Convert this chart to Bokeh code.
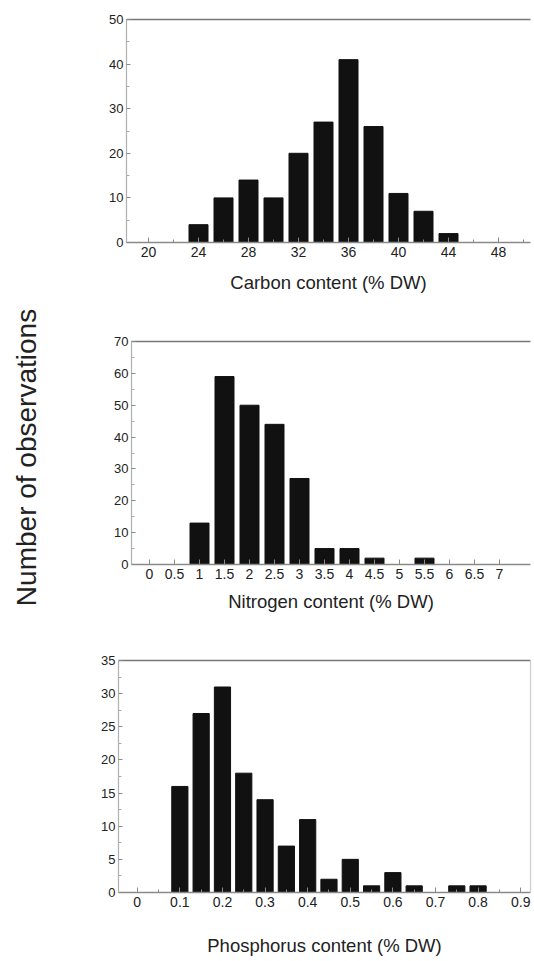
from bokeh.plotting import figure
from bokeh.models import Range1d, FixedTicker, LinearAxis, Label, Spacer
from bokeh.layouts import column, row
from bokeh.embed import file_html
from bokeh.resources import INLINE

# ---------------- data ----------------
carbon_bins = [24, 26, 28, 30, 32, 34, 36, 38, 40, 42, 44]
carbon_counts = [4, 10, 14, 10, 20, 27, 41, 26, 11, 7, 2]
carbon_bin_width = 2
carbon_xticks = [20, 24, 28, 32, 36, 40, 44, 48]
carbon_xminor = [22, 26, 30, 34, 38, 42, 46, 50]
carbon_yticks = [0, 10, 20, 30, 40, 50]
carbon_yminor = [5, 15, 25, 35, 45]

nitrogen_bins = [1, 1.5, 2, 2.5, 3, 3.5, 4, 4.5, 5, 5.5]
nitrogen_counts = [13, 59, 50, 44, 27, 5, 5, 2, 0, 2]
nitrogen_bin_width = 0.5
nitrogen_xticks = [0, 0.5, 1, 1.5, 2, 2.5, 3, 3.5, 4, 4.5, 5, 5.5, 6, 6.5, 7]
nitrogen_xlabels = ["0", "0.5", "1", "1.5", "2", "2.5", "3", "3.5", "4",
                    "4.5", "5", "5.5", "6", "6.5", "7"]
nitrogen_yticks = [0, 10, 20, 30, 40, 50, 60, 70]
nitrogen_yminor = [5, 15, 25, 35, 45, 55, 65]

phos_bins = [0.1, 0.15, 0.2, 0.25, 0.3, 0.35, 0.4, 0.45, 0.5, 0.55, 0.6,
             0.65, 0.7, 0.75, 0.8]
phos_counts = [16, 27, 31, 18, 14, 7, 11, 2, 5, 1, 3, 1, 0, 1, 1]
phos_bin_width = 0.05
phos_xticks = [0, 0.1, 0.2, 0.3, 0.4, 0.5, 0.6, 0.7, 0.8, 0.9]
phos_xlabels = ["0", "0.1", "0.2", "0.3", "0.4", "0.5", "0.6", "0.7", "0.8", "0.9"]
phos_xminor = [0.05, 0.15, 0.25, 0.35, 0.45, 0.55, 0.65, 0.75, 0.85]
phos_yticks = [0, 5, 10, 15, 20, 25, 30, 35]
phos_yminor = [2.5, 7.5, 12.5, 17.5, 22.5, 27.5, 32.5]

y_title = "Number of observations"

FONT = "Liberation Sans"
LINE = "#8a8a8a"
BAR = "#111111"
TXT = "#222222"
LABEL_W = 60
PANEL_W = 474
BORDER_L = 50


def make(bins, counts, bw, xr, yr, xticks, xminor, xlabels, yticks, yminor,
         xlabel, height, top, bottom, shift, xlabel_standoff, right_line=False):
    p = figure(width=PANEL_W - shift, height=height, output_backend="svg",
               toolbar_location=None, x_range=Range1d(*xr), y_range=Range1d(*yr),
               min_border_top=top, min_border_bottom=bottom,
               min_border_left=BORDER_L, min_border_right=4)
    p.outline_line_color = None
    p.xgrid.visible = False
    p.ygrid.visible = False
    p.background_fill_color = "white"
    p.border_fill_color = "white"

    p.vbar(x=bins, top=counts, width=bw * 0.76, bottom=0,
           fill_color=BAR, line_color=BAR)

    xa = p.xaxis[0]
    xa.ticker = FixedTicker(ticks=xticks, minor_ticks=xminor)
    if xlabels is not None:
        xa.major_label_overrides = {t: l for t, l in zip(xticks, xlabels)}
    xa.axis_label = xlabel
    xa.axis_label_text_font = FONT
    xa.axis_label_text_font_size = "18.5px"
    xa.axis_label_text_font_style = "normal"
    xa.axis_label_text_color = TXT
    xa.axis_label_standoff = xlabel_standoff
    xa.major_label_text_font = FONT
    xa.major_label_text_font_size = "14px"
    xa.major_label_text_color = TXT
    xa.major_label_standoff = 4
    xa.major_tick_in = 5
    xa.major_tick_out = 0
    xa.minor_tick_in = 3
    xa.minor_tick_out = 0
    xa.axis_line_color = LINE
    xa.axis_line_width = 1.5
    xa.major_tick_line_color = LINE
    xa.minor_tick_line_color = LINE

    ya = p.yaxis[0]
    ya.ticker = FixedTicker(ticks=yticks, minor_ticks=yminor)
    ya.major_label_text_font = FONT
    ya.major_label_text_font_size = "13px"
    ya.major_label_text_color = TXT
    ya.major_label_standoff = 3
    ya.major_tick_in = 4
    ya.major_tick_out = 0
    ya.minor_tick_in = 3
    ya.minor_tick_out = 0
    ya.axis_line_color = "#b0b0b0"
    ya.axis_line_width = 1.2
    ya.major_tick_line_color = LINE
    ya.minor_tick_line_color = "#aaaaaa"

    top_axis = LinearAxis(ticker=FixedTicker(ticks=[]), axis_line_color="#777777",
                          axis_line_width=1.5, major_tick_line_color=None,
                          minor_tick_line_color=None,
                          major_label_text_font_size="0px")
    p.add_layout(top_axis, "above")
    if right_line:
        right_axis = LinearAxis(ticker=FixedTicker(ticks=[]), axis_line_color="#cccccc",
                                axis_line_width=1.2, major_tick_line_color=None,
                                minor_tick_line_color=None,
                                major_label_text_font_size="0px")
        p.add_layout(right_axis, "right")
    if shift > 0:
        return row(Spacer(width=shift, height=height), p)
    return p


p1 = make(carbon_bins, carbon_counts, carbon_bin_width, (18.24, 50.56), (0, 50),
          carbon_xticks, carbon_xminor, None, carbon_yticks, carbon_yminor,
          "Carbon content (% DW)", 320, 19, 78, 16, 12)

p2 = make(nitrogen_bins, nitrogen_counts, nitrogen_bin_width, (-0.36, 7.62), (0, 70),
          nitrogen_xticks, [], nitrogen_xlabels, nitrogen_yticks, nitrogen_yminor,
          "Nitrogen content (% DW)", 320, 21, 76, 21, 9)

p3 = make(phos_bins, phos_counts, phos_bin_width, (-0.044, 0.923), (0, 35),
          phos_xticks, phos_xminor, phos_xlabels, phos_yticks, phos_yminor,
          "Phosphorus content (% DW)", 320, 20, 68, 8, 25,
          right_line=True)

total_h = 320 + 320 + 320
lab = figure(width=LABEL_W, height=total_h, output_backend="svg",
             toolbar_location=None, x_range=Range1d(0, 1), y_range=Range1d(0, 1),
             x_axis_type=None, y_axis_type=None, min_border=0)
lab.outline_line_color = None
lab.xgrid.visible = False
lab.ygrid.visible = False
lab.add_layout(Label(x=26, y=total_h - 457, x_units="screen", y_units="screen",
                     text=y_title, angle=90, angle_units="deg",
                     text_align="center", text_baseline="middle",
                     text_font=FONT, text_font_size="28px", text_color=TXT))

layout = row(lab, column(p1, p2, p3))
open("out.html", "w").write(file_html(layout, INLINE))
